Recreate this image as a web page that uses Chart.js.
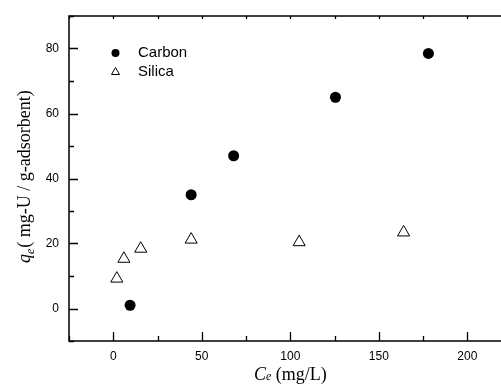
<!DOCTYPE html>
<html>
<head>
<meta charset="utf-8">
<script src="https://cdn.jsdelivr.net/npm/chart.js@4.4.0/dist/chart.umd.min.js"></script>
<style>
html, body { margin: 0; padding: 0; background: #fff; overflow: hidden; }
#wrap { width: 501px; height: 385px; overflow: hidden; }
</style>
</head>
<body>
<div id="wrap"><canvas id="isoChart" width="509" height="385"></canvas></div>
<script>
// data
var carbonCe = [9.5, 44, 68, 125.5, 178];
var carbonQe = [1, 35, 47, 65, 78.5];
var silicaCe = [2, 6, 15.5, 44, 105, 164];
var silicaQe = [9.2, 15.3, 18.4, 21.2, 20.4, 23.4];
var seriesNames = ['Carbon', 'Silica'];
var xLabelStep = 50, xMinorStep = 25;
var yLabelStep = 20, yMinorStep = 10;

function toPoints(xs, ys) {
    var pts = [];
    for (var i = 0; i < xs.length; i++) {
        pts.push({x: xs[i], y: ys[i]});
    }
    return pts;
}

// frame, inward ticks, legend and axis titles
var decorPlugin = {
    id: 'decor',
    afterDraw: function(chart) {
        var ctx = chart.ctx;
        var a = chart.chartArea;
        var xs = chart.scales.x, ys = chart.scales.y;
        ctx.save();
        ctx.strokeStyle = '#000';
        ctx.lineWidth = 1.5;
        ctx.beginPath();
        ctx.moveTo(a.right + 10, a.top);
        ctx.lineTo(a.left, a.top);
        ctx.lineTo(a.left, a.bottom);
        ctx.lineTo(a.right + 10, a.bottom);
        ctx.stroke();

        ctx.lineWidth = 1.3;
        ctx.beginPath();
        xs.ticks.forEach(function(t) {
            if (t.value % xMinorStep !== 0) return;
            var px = Math.round(xs.getPixelForValue(t.value)) + 0.5;
            var len = (t.value % xLabelStep === 0) ? 9 : 5;
            ctx.moveTo(px, a.bottom);
            ctx.lineTo(px, a.bottom - len);
            ctx.moveTo(px, a.top);
            ctx.lineTo(px, a.top + 3);
        });
        ys.ticks.forEach(function(t) {
            if (t.value % yMinorStep !== 0) return;
            var py = Math.round(ys.getPixelForValue(t.value)) + 0.5;
            var len = (t.value % yLabelStep === 0) ? 9 : 5;
            ctx.moveTo(a.left, py);
            ctx.lineTo(a.left + len, py);
        });
        ctx.stroke();

        // legend
        ctx.fillStyle = '#000';
        ctx.beginPath();
        ctx.arc(115.5, 53, 4, 0, Math.PI * 2);
        ctx.fill();
        ctx.lineWidth = 1;
        ctx.beginPath();
        ctx.moveTo(115.5, 67.5);
        ctx.lineTo(119.5, 74.5);
        ctx.lineTo(111.5, 74.5);
        ctx.closePath();
        ctx.stroke();
        ctx.font = '15px "Liberation Sans", Arial, sans-serif';
        ctx.textBaseline = 'middle';
        ctx.textAlign = 'left';
        ctx.fillText(seriesNames[0], 138, 53);
        ctx.fillText(seriesNames[1], 138, 72);

        // x title
        ctx.textBaseline = 'alphabetic';
        var big = '18px "Liberation Serif", "Times New Roman", serif';
        var bigIt = 'italic 18px "Liberation Serif", "Times New Roman", serif';
        var smIt = 'italic 12px "Liberation Serif", "Times New Roman", serif';
        var x0 = 254, base = 380;
        ctx.font = bigIt;
        ctx.fillText('C', x0, base);
        x0 += ctx.measureText('C').width;
        ctx.font = smIt;
        ctx.fillText('e', x0, base);
        x0 += ctx.measureText('e').width;
        ctx.font = big;
        ctx.fillText(' (mg/L)', x0, base);

        // y title, rotated
        ctx.translate(30, 263);
        ctx.rotate(-Math.PI / 2);
        var p = 0;
        ctx.font = bigIt;
        ctx.fillText('q', p, 0);
        p += ctx.measureText('q').width;
        ctx.font = smIt;
        ctx.fillText('e', p, 4);
        p += ctx.measureText('e').width;
        ctx.font = big;
        ctx.fillText('( mg-U / g-adsorbent)', p + 1, 0);
        ctx.restore();
    }
};

var ctx = document.getElementById('isoChart').getContext('2d');
var chart = new Chart(ctx, {
    type: 'scatter',
    data: {
        datasets: [{
            label: seriesNames[0],
            data: toPoints(carbonCe, carbonQe),
            pointStyle: 'circle',
            pointRadius: 5.5,
            backgroundColor: '#000',
            borderColor: '#000',
            borderWidth: 0
        }, {
            label: seriesNames[1],
            data: toPoints(silicaCe, silicaQe),
            pointStyle: 'triangle',
            pointRadius: 7,
            backgroundColor: 'rgba(255,255,255,0)',
            borderColor: '#000',
            borderWidth: 1
        }]
    },
    options: {
        responsive: false,
        animation: false,
        devicePixelRatio: 1,
        layout: { padding: { top: 16, right: 0, left: 0, bottom: 0 } },
        plugins: {
            legend: { display: false },
            tooltip: { enabled: false }
        },
        scales: {
            x: {
                type: 'linear',
                min: -25,
                max: 219,
                grid: { display: false, drawTicks: false },
                border: { display: false },
                ticks: {
                    stepSize: xMinorStep,
                    includeBounds: false,
                    autoSkip: false,
                    maxRotation: 0,
                    padding: 8,
                    color: '#000',
                    font: { family: '"Liberation Sans", Arial, sans-serif', size: 12 },
                    callback: function(v) { return (v % xLabelStep === 0) ? v : ''; }
                },
                afterFit: function(s) {
                    s.height = 44;
                }
            },
            y: {
                type: 'linear',
                min: -10,
                max: 90,
                grid: { display: false, drawTicks: false },
                border: { display: false },
                ticks: {
                    stepSize: yMinorStep,
                    includeBounds: false,
                    autoSkip: false,
                    padding: 10,
                    color: '#000',
                    font: { family: '"Liberation Sans", Arial, sans-serif', size: 12 },
                    callback: function(v) { return (v % yLabelStep === 0) ? v : ''; }
                },
                afterFit: function(s) {
                    s.width = 69;
                    s.paddingTop = 0;
                    s.paddingBottom = 0;
                }
            }
        }
    },
    plugins: [decorPlugin]
});
</script>
</body>
</html>
